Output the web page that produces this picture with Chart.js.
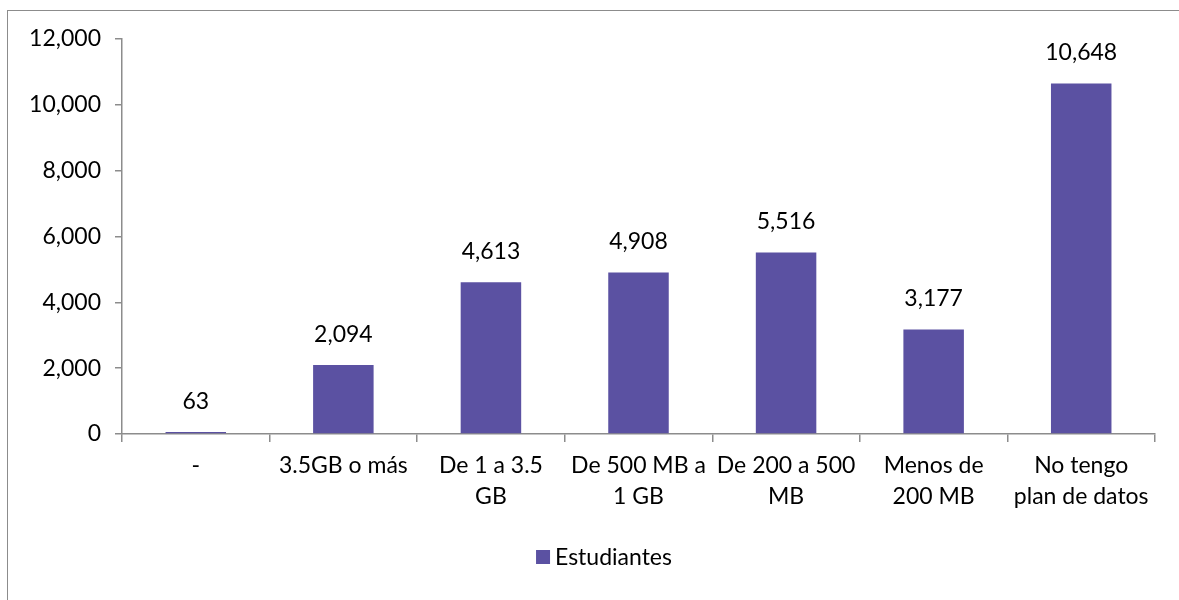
<!DOCTYPE html>
<html><head><meta charset="utf-8">
<script src="https://cdn.jsdelivr.net/npm/chart.js@4"></script>
<style>
html,body{margin:0;padding:0;background:#fff;}
#wrap{position:relative;width:1179px;height:600px;}
#frame{position:absolute;left:7px;top:10px;width:1180px;height:600px;border:1.5px solid #8c8c8c;box-sizing:border-box;}
canvas{position:absolute;left:0;top:0;}
</style></head>
<body><div id="wrap"><div id="frame"></div><canvas id="c" width="1179" height="600"></canvas></div>
<script>
const categories = [["-"],["3.5GB o más"],["De 1 a 3.5","GB"],["De 500 MB a","1 GB"],["De 200 a 500","MB"],["Menos de","200 MB"],["No tengo","plan de datos"]];
const values = [63, 2094, 4613, 4908, 5516, 3177, 10648];
const seriesName = "Estudiantes";
const yTicks = [0, 2000, 4000, 6000, 8000, 10000, 12000];

const FONT = "Lato, 'Open Sans', sans-serif";
const BAR = '#5b51a2';
const labelPlugin = {
  id: 'vals',
  afterDatasetsDraw(chart){
    const ctx = chart.ctx;
    const meta = chart.getDatasetMeta(0);
    ctx.save();
    ctx.font = "23px " + FONT;
    ctx.fillStyle = "#000";
    ctx.textAlign = "center";
    ctx.textBaseline = "bottom";
    meta.data.forEach((bar,i)=>{
      ctx.fillText(values[i].toLocaleString('en-US'), bar.x, bar.y - 19);
    });
    // legend
    const ds = chart.data.datasets[0];
    ctx.font = "23px " + FONT;
    ctx.textAlign = "left";
    ctx.textBaseline = "middle";
    const tw = ctx.measureText(ds.label).width;
    const total = 14 + 5 + tw;
    const x0 = 604 - total/2, cy = 557;
    ctx.fillStyle = ds.backgroundColor;
    ctx.fillRect(x0, cy - 7, 14, 14);
    ctx.fillStyle = "#000";
    ctx.fillText(ds.label, x0 + 19, cy + 1);
    ctx.restore();
  }
};
new Chart(document.getElementById('c'), {
  type: 'bar',
  data: { labels: categories, datasets: [{ label: seriesName, data: values, backgroundColor: BAR, borderWidth: 0, categoryPercentage: 1.0, barPercentage: 0.41 }] },
  options: {
    responsive: false, animation: false,
    layout: { padding: { top: 39, right: 24, left: 0, bottom: 60 } },
    plugins: {
      legend: { display: false },
      tooltip: { enabled: false }
    },
    scales: {
      y: {
        min: 0, max: 12000,
        afterBuildTicks(s){ s.ticks = yTicks.map(v=>({value:v})); },
        afterFit(s){ s.width = 122; },
        ticks: { font: { size: 23, family: FONT }, color: '#000', padding: 14, callback: v => v.toLocaleString('en-US') },
        grid: { drawOnChartArea: false, drawTicks: true, tickLength: 7, color: '#8c8c8c', lineWidth: 1.5 },
        border: { color: '#8c8c8c', width: 1.5 }
      },
      x: {
        afterFit(s){ s.height = 106; },
        ticks: { font: { size: 23, family: FONT, lineHeight: 1.35 }, color: '#000', padding: 8, maxRotation: 0, autoSkip: false },
        grid: { drawOnChartArea: false, drawTicks: true, tickLength: 8, color: '#8c8c8c', lineWidth: 1.5, offset: true },
        border: { color: '#8c8c8c', width: 1.5 }
      }
    }
  },
  plugins: [labelPlugin]
});
</script></body></html>
